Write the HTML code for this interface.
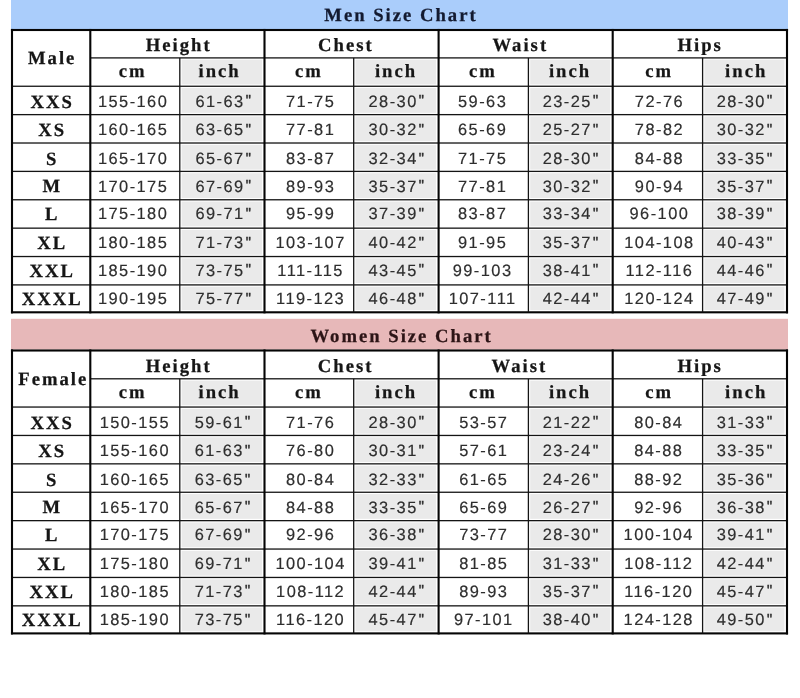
<!DOCTYPE html>
<html lang="en"><head><meta charset="utf-8"><title>Size Chart</title>
<style>
html,body{margin:0;padding:0;background:#fff}
body{width:800px;height:698px;overflow:hidden}
svg{display:block}
.k{fill:#050505}
.n{fill:#141414}
.g{fill:#eaeaea}
text{text-anchor:middle;white-space:pre;text-rendering:geometricPrecision}
.b{font:bold 18.67px "Liberation Serif",serif;letter-spacing:2.0px;fill:#161616;stroke:#161616;stroke-width:0.25px}
.tm{fill:#131a30;stroke:#131a30}
.tw{fill:#2c1416;stroke:#2c1416}
.d{text-rendering:geometricPrecision;font:16.4px "Liberation Sans",sans-serif;letter-spacing:1.45px;fill:#2e2e2e;stroke:#2e2e2e;stroke-width:0.18px}
.q{font-size:14.5px;stroke-width:0.45px}
</style></head>
<body>
<svg width="800" height="698" viewBox="0 0 800 698">
<rect x="11" y="0" width="777" height="29.2" fill="#aacdfb"/>
<rect x="11" y="318.8" width="777" height="30.8" fill="#e7b8b9"/>
<rect class="g" x="181.60" y="59.70" width="80.35" height="24.75"/>
<rect class="g" x="181.60" y="88.05" width="80.35" height="24.78"/>
<rect class="g" x="181.60" y="116.43" width="80.35" height="24.78"/>
<rect class="g" x="181.60" y="144.81" width="80.35" height="24.78"/>
<rect class="g" x="181.60" y="173.19" width="80.35" height="24.78"/>
<rect class="g" x="181.60" y="201.57" width="80.35" height="24.78"/>
<rect class="g" x="181.60" y="229.95" width="80.35" height="24.78"/>
<rect class="g" x="181.60" y="258.33" width="80.35" height="24.78"/>
<rect class="g" x="181.60" y="286.71" width="80.35" height="23.39"/>
<rect class="g" x="355.50" y="59.70" width="80.55" height="24.75"/>
<rect class="g" x="355.50" y="88.05" width="80.55" height="24.78"/>
<rect class="g" x="355.50" y="116.43" width="80.55" height="24.78"/>
<rect class="g" x="355.50" y="144.81" width="80.55" height="24.78"/>
<rect class="g" x="355.50" y="173.19" width="80.55" height="24.78"/>
<rect class="g" x="355.50" y="201.57" width="80.55" height="24.78"/>
<rect class="g" x="355.50" y="229.95" width="80.55" height="24.78"/>
<rect class="g" x="355.50" y="258.33" width="80.55" height="24.78"/>
<rect class="g" x="355.50" y="286.71" width="80.55" height="23.39"/>
<rect class="g" x="530.20" y="59.70" width="79.95" height="24.75"/>
<rect class="g" x="530.20" y="88.05" width="79.95" height="24.78"/>
<rect class="g" x="530.20" y="116.43" width="79.95" height="24.78"/>
<rect class="g" x="530.20" y="144.81" width="79.95" height="24.78"/>
<rect class="g" x="530.20" y="173.19" width="79.95" height="24.78"/>
<rect class="g" x="530.20" y="201.57" width="79.95" height="24.78"/>
<rect class="g" x="530.20" y="229.95" width="79.95" height="24.78"/>
<rect class="g" x="530.20" y="258.33" width="79.95" height="24.78"/>
<rect class="g" x="530.20" y="286.71" width="79.95" height="23.39"/>
<rect class="g" x="704.40" y="59.70" width="80.05" height="24.75"/>
<rect class="g" x="704.40" y="88.05" width="80.05" height="24.78"/>
<rect class="g" x="704.40" y="116.43" width="80.05" height="24.78"/>
<rect class="g" x="704.40" y="144.81" width="80.05" height="24.78"/>
<rect class="g" x="704.40" y="173.19" width="80.05" height="24.78"/>
<rect class="g" x="704.40" y="201.57" width="80.05" height="24.78"/>
<rect class="g" x="704.40" y="229.95" width="80.05" height="24.78"/>
<rect class="g" x="704.40" y="258.33" width="80.05" height="24.78"/>
<rect class="g" x="704.40" y="286.71" width="80.05" height="23.39"/>
<rect class="k" x="10.95" y="28.95" width="777.10" height="2.1"/>
<rect class="k" x="10.95" y="311.25" width="777.10" height="2.1"/>
<rect class="n" x="90.30" y="57.25" width="696.70" height="1.3"/>
<rect class="n" x="12.00" y="85.60" width="775.00" height="1.3"/>
<rect class="n" x="12.00" y="113.98" width="775.00" height="1.3"/>
<rect class="n" x="12.00" y="142.36" width="775.00" height="1.3"/>
<rect class="n" x="12.00" y="170.74" width="775.00" height="1.3"/>
<rect class="n" x="12.00" y="199.12" width="775.00" height="1.3"/>
<rect class="n" x="12.00" y="227.50" width="775.00" height="1.3"/>
<rect class="n" x="12.00" y="255.88" width="775.00" height="1.3"/>
<rect class="n" x="12.00" y="284.26" width="775.00" height="1.3"/>
<rect class="k" x="10.95" y="28.95" width="2.1" height="284.40"/>
<rect class="k" x="89.25" y="28.95" width="2.1" height="284.40"/>
<rect class="n" x="179.15" y="57.90" width="1.3" height="254.40"/>
<rect class="k" x="263.45" y="28.95" width="2.1" height="284.40"/>
<rect class="n" x="353.05" y="57.90" width="1.3" height="254.40"/>
<rect class="k" x="437.55" y="28.95" width="2.1" height="284.40"/>
<rect class="n" x="527.75" y="57.90" width="1.3" height="254.40"/>
<rect class="k" x="611.65" y="28.95" width="2.1" height="284.40"/>
<rect class="n" x="701.95" y="57.90" width="1.3" height="254.40"/>
<rect class="k" x="785.95" y="28.95" width="2.1" height="284.40"/>
<rect class="g" x="181.60" y="380.60" width="80.35" height="24.65"/>
<rect class="g" x="181.60" y="408.85" width="80.35" height="24.80"/>
<rect class="g" x="181.60" y="437.25" width="80.35" height="24.80"/>
<rect class="g" x="181.60" y="465.65" width="80.35" height="24.80"/>
<rect class="g" x="181.60" y="494.05" width="80.35" height="24.80"/>
<rect class="g" x="181.60" y="522.45" width="80.35" height="24.80"/>
<rect class="g" x="181.60" y="550.85" width="80.35" height="24.80"/>
<rect class="g" x="181.60" y="579.25" width="80.35" height="24.80"/>
<rect class="g" x="181.60" y="607.65" width="80.35" height="23.55"/>
<rect class="g" x="355.50" y="380.60" width="80.55" height="24.65"/>
<rect class="g" x="355.50" y="408.85" width="80.55" height="24.80"/>
<rect class="g" x="355.50" y="437.25" width="80.55" height="24.80"/>
<rect class="g" x="355.50" y="465.65" width="80.55" height="24.80"/>
<rect class="g" x="355.50" y="494.05" width="80.55" height="24.80"/>
<rect class="g" x="355.50" y="522.45" width="80.55" height="24.80"/>
<rect class="g" x="355.50" y="550.85" width="80.55" height="24.80"/>
<rect class="g" x="355.50" y="579.25" width="80.55" height="24.80"/>
<rect class="g" x="355.50" y="607.65" width="80.55" height="23.55"/>
<rect class="g" x="530.20" y="380.60" width="79.95" height="24.65"/>
<rect class="g" x="530.20" y="408.85" width="79.95" height="24.80"/>
<rect class="g" x="530.20" y="437.25" width="79.95" height="24.80"/>
<rect class="g" x="530.20" y="465.65" width="79.95" height="24.80"/>
<rect class="g" x="530.20" y="494.05" width="79.95" height="24.80"/>
<rect class="g" x="530.20" y="522.45" width="79.95" height="24.80"/>
<rect class="g" x="530.20" y="550.85" width="79.95" height="24.80"/>
<rect class="g" x="530.20" y="579.25" width="79.95" height="24.80"/>
<rect class="g" x="530.20" y="607.65" width="79.95" height="23.55"/>
<rect class="g" x="704.40" y="380.60" width="80.05" height="24.65"/>
<rect class="g" x="704.40" y="408.85" width="80.05" height="24.80"/>
<rect class="g" x="704.40" y="437.25" width="80.05" height="24.80"/>
<rect class="g" x="704.40" y="465.65" width="80.05" height="24.80"/>
<rect class="g" x="704.40" y="494.05" width="80.05" height="24.80"/>
<rect class="g" x="704.40" y="522.45" width="80.05" height="24.80"/>
<rect class="g" x="704.40" y="550.85" width="80.05" height="24.80"/>
<rect class="g" x="704.40" y="579.25" width="80.05" height="24.80"/>
<rect class="g" x="704.40" y="607.65" width="80.05" height="23.55"/>
<rect class="k" x="10.95" y="349.45" width="777.10" height="2.1"/>
<rect class="k" x="10.95" y="632.35" width="777.10" height="2.1"/>
<rect class="n" x="90.30" y="378.15" width="696.70" height="1.3"/>
<rect class="n" x="12.00" y="406.40" width="775.00" height="1.3"/>
<rect class="n" x="12.00" y="434.80" width="775.00" height="1.3"/>
<rect class="n" x="12.00" y="463.20" width="775.00" height="1.3"/>
<rect class="n" x="12.00" y="491.60" width="775.00" height="1.3"/>
<rect class="n" x="12.00" y="520.00" width="775.00" height="1.3"/>
<rect class="n" x="12.00" y="548.40" width="775.00" height="1.3"/>
<rect class="n" x="12.00" y="576.80" width="775.00" height="1.3"/>
<rect class="n" x="12.00" y="605.20" width="775.00" height="1.3"/>
<rect class="k" x="10.95" y="349.45" width="2.1" height="285.00"/>
<rect class="k" x="89.25" y="349.45" width="2.1" height="285.00"/>
<rect class="n" x="179.15" y="378.80" width="1.3" height="254.60"/>
<rect class="k" x="263.45" y="349.45" width="2.1" height="285.00"/>
<rect class="n" x="353.05" y="378.80" width="1.3" height="254.60"/>
<rect class="k" x="437.55" y="349.45" width="2.1" height="285.00"/>
<rect class="n" x="527.75" y="378.80" width="1.3" height="254.60"/>
<rect class="k" x="611.65" y="349.45" width="2.1" height="285.00"/>
<rect class="n" x="701.95" y="378.80" width="1.3" height="254.60"/>
<rect class="k" x="785.95" y="349.45" width="2.1" height="285.00"/>
<text class="b tm" x="401.00" y="20.60">Men Size Chart</text>
<text class="b tw" x="401.60" y="342.25">Women Size Chart</text>
<text class="b" x="52.20" y="64.40">Male</text>
<text class="b" x="178.75" y="51.10">Height</text>
<text class="b" x="345.90" y="51.10">Chest</text>
<text class="b" x="520.30" y="51.10">Waist</text>
<text class="b" x="700.15" y="51.10">Hips</text>
<text class="b" x="132.75" y="77.40">cm</text>
<text class="b" x="308.95" y="77.40">cm</text>
<text class="b" x="482.95" y="77.40">cm</text>
<text class="b" x="659.15" y="77.40">cm</text>
<text class="b" x="219.60" y="77.40">inch</text>
<text class="b" x="396.05" y="77.40">inch</text>
<text class="b" x="570.05" y="77.40">inch</text>
<text class="b" x="746.20" y="77.40">inch</text>
<text class="b" x="52.20" y="107.70">XXS</text>
<text class="d" x="133.12" y="106.80">155-160</text>
<text class="d" x="223.88" y="106.80">61-63<tspan class="q" dx="1.1" dy="-1.6">&quot;</tspan></text>
<text class="d" x="310.62" y="106.80">71-75</text>
<text class="d" x="396.98" y="106.80">28-30<tspan class="q" dx="1.1" dy="-1.6">&quot;</tspan></text>
<text class="d" x="482.62" y="106.80">59-63</text>
<text class="d" x="571.17" y="106.80">23-25<tspan class="q" dx="1.1" dy="-1.6">&quot;</tspan></text>
<text class="d" x="659.43" y="106.80">72-76</text>
<text class="d" x="745.17" y="106.80">28-30<tspan class="q" dx="1.1" dy="-1.6">&quot;</tspan></text>
<text class="b" x="52.20" y="135.90">XS</text>
<text class="d" x="133.12" y="135.10">160-165</text>
<text class="d" x="223.88" y="135.10">63-65<tspan class="q" dx="1.1" dy="-1.6">&quot;</tspan></text>
<text class="d" x="310.62" y="135.10">77-81</text>
<text class="d" x="396.98" y="135.10">30-32<tspan class="q" dx="1.1" dy="-1.6">&quot;</tspan></text>
<text class="d" x="482.62" y="135.10">65-69</text>
<text class="d" x="571.17" y="135.10">25-27<tspan class="q" dx="1.1" dy="-1.6">&quot;</tspan></text>
<text class="d" x="659.43" y="135.10">78-82</text>
<text class="d" x="745.17" y="135.10">30-32<tspan class="q" dx="1.1" dy="-1.6">&quot;</tspan></text>
<text class="b" x="52.20" y="164.80">S</text>
<text class="d" x="133.12" y="164.20">165-170</text>
<text class="d" x="223.88" y="164.20">65-67<tspan class="q" dx="1.1" dy="-1.6">&quot;</tspan></text>
<text class="d" x="310.62" y="164.20">83-87</text>
<text class="d" x="396.98" y="164.20">32-34<tspan class="q" dx="1.1" dy="-1.6">&quot;</tspan></text>
<text class="d" x="482.62" y="164.20">71-75</text>
<text class="d" x="571.17" y="164.20">28-30<tspan class="q" dx="1.1" dy="-1.6">&quot;</tspan></text>
<text class="d" x="659.43" y="164.20">84-88</text>
<text class="d" x="745.17" y="164.20">33-35<tspan class="q" dx="1.1" dy="-1.6">&quot;</tspan></text>
<text class="b" x="52.20" y="192.00">M</text>
<text class="d" x="133.12" y="191.70">170-175</text>
<text class="d" x="223.88" y="191.70">67-69<tspan class="q" dx="1.1" dy="-1.6">&quot;</tspan></text>
<text class="d" x="310.62" y="191.70">89-93</text>
<text class="d" x="396.98" y="191.70">35-37<tspan class="q" dx="1.1" dy="-1.6">&quot;</tspan></text>
<text class="d" x="482.62" y="191.70">77-81</text>
<text class="d" x="571.17" y="191.70">30-32<tspan class="q" dx="1.1" dy="-1.6">&quot;</tspan></text>
<text class="d" x="659.43" y="191.70">90-94</text>
<text class="d" x="745.17" y="191.70">35-37<tspan class="q" dx="1.1" dy="-1.6">&quot;</tspan></text>
<text class="b" x="52.20" y="220.30">L</text>
<text class="d" x="133.12" y="219.30">175-180</text>
<text class="d" x="223.88" y="219.30">69-71<tspan class="q" dx="1.1" dy="-1.6">&quot;</tspan></text>
<text class="d" x="310.62" y="219.30">95-99</text>
<text class="d" x="396.98" y="219.30">37-39<tspan class="q" dx="1.1" dy="-1.6">&quot;</tspan></text>
<text class="d" x="482.62" y="219.30">83-87</text>
<text class="d" x="571.17" y="219.30">33-34<tspan class="q" dx="1.1" dy="-1.6">&quot;</tspan></text>
<text class="d" x="659.43" y="219.30">96-100</text>
<text class="d" x="745.17" y="219.30">38-39<tspan class="q" dx="1.1" dy="-1.6">&quot;</tspan></text>
<text class="b" x="52.20" y="248.80">XL</text>
<text class="d" x="133.12" y="248.40">180-185</text>
<text class="d" x="223.88" y="248.40">71-73<tspan class="q" dx="1.1" dy="-1.6">&quot;</tspan></text>
<text class="d" x="310.62" y="248.40">103-107</text>
<text class="d" x="396.98" y="248.40">40-42<tspan class="q" dx="1.1" dy="-1.6">&quot;</tspan></text>
<text class="d" x="482.62" y="248.40">91-95</text>
<text class="d" x="571.17" y="248.40">35-37<tspan class="q" dx="1.1" dy="-1.6">&quot;</tspan></text>
<text class="d" x="659.43" y="248.40">104-108</text>
<text class="d" x="745.17" y="248.40">40-43<tspan class="q" dx="1.1" dy="-1.6">&quot;</tspan></text>
<text class="b" x="52.20" y="276.80">XXL</text>
<text class="d" x="133.12" y="275.80">185-190</text>
<text class="d" x="223.88" y="275.80">73-75<tspan class="q" dx="1.1" dy="-1.6">&quot;</tspan></text>
<text class="d" x="310.62" y="275.80">111-115</text>
<text class="d" x="396.98" y="275.80">43-45<tspan class="q" dx="1.1" dy="-1.6">&quot;</tspan></text>
<text class="d" x="482.62" y="275.80">99-103</text>
<text class="d" x="571.17" y="275.80">38-41<tspan class="q" dx="1.1" dy="-1.6">&quot;</tspan></text>
<text class="d" x="659.43" y="275.80">112-116</text>
<text class="d" x="745.17" y="275.80">44-46<tspan class="q" dx="1.1" dy="-1.6">&quot;</tspan></text>
<text class="b" x="52.20" y="305.20">XXXL</text>
<text class="d" x="133.12" y="304.30">190-195</text>
<text class="d" x="223.88" y="304.30">75-77<tspan class="q" dx="1.1" dy="-1.6">&quot;</tspan></text>
<text class="d" x="310.62" y="304.30">119-123</text>
<text class="d" x="396.98" y="304.30">46-48<tspan class="q" dx="1.1" dy="-1.6">&quot;</tspan></text>
<text class="d" x="482.62" y="304.30">107-111</text>
<text class="d" x="571.17" y="304.30">42-44<tspan class="q" dx="1.1" dy="-1.6">&quot;</tspan></text>
<text class="d" x="659.43" y="304.30">120-124</text>
<text class="d" x="745.17" y="304.30">47-49<tspan class="q" dx="1.1" dy="-1.6">&quot;</tspan></text>
<text class="b" x="53.25" y="384.70">Female</text>
<text class="b" x="178.75" y="371.80">Height</text>
<text class="b" x="345.60" y="371.80">Chest</text>
<text class="b" x="519.40" y="371.80">Waist</text>
<text class="b" x="700.15" y="371.80">Hips</text>
<text class="b" x="132.75" y="398.10">cm</text>
<text class="b" x="308.95" y="398.10">cm</text>
<text class="b" x="482.95" y="398.10">cm</text>
<text class="b" x="659.15" y="398.10">cm</text>
<text class="b" x="219.60" y="398.10">inch</text>
<text class="b" x="396.05" y="398.10">inch</text>
<text class="b" x="570.05" y="398.10">inch</text>
<text class="b" x="746.20" y="398.10">inch</text>
<text class="b" x="52.20" y="428.70">XXS</text>
<text class="d" x="134.82" y="427.80">150-155</text>
<text class="d" x="223.18" y="427.80">59-61<tspan class="q" dx="1.1" dy="-1.6">&quot;</tspan></text>
<text class="d" x="310.62" y="427.80">71-76</text>
<text class="d" x="396.98" y="427.80">28-30<tspan class="q" dx="1.1" dy="-1.6">&quot;</tspan></text>
<text class="d" x="483.83" y="427.80">53-57</text>
<text class="d" x="571.17" y="427.80">21-22<tspan class="q" dx="1.1" dy="-1.6">&quot;</tspan></text>
<text class="d" x="658.73" y="427.80">80-84</text>
<text class="d" x="745.17" y="427.80">31-33<tspan class="q" dx="1.1" dy="-1.6">&quot;</tspan></text>
<text class="b" x="52.20" y="456.90">XS</text>
<text class="d" x="134.82" y="456.10">155-160</text>
<text class="d" x="223.18" y="456.10">61-63<tspan class="q" dx="1.1" dy="-1.6">&quot;</tspan></text>
<text class="d" x="310.62" y="456.10">76-80</text>
<text class="d" x="396.98" y="456.10">30-31<tspan class="q" dx="1.1" dy="-1.6">&quot;</tspan></text>
<text class="d" x="483.83" y="456.10">57-61</text>
<text class="d" x="571.17" y="456.10">23-24<tspan class="q" dx="1.1" dy="-1.6">&quot;</tspan></text>
<text class="d" x="658.73" y="456.10">84-88</text>
<text class="d" x="745.17" y="456.10">33-35<tspan class="q" dx="1.1" dy="-1.6">&quot;</tspan></text>
<text class="b" x="52.20" y="485.80">S</text>
<text class="d" x="134.82" y="485.20">160-165</text>
<text class="d" x="223.18" y="485.20">63-65<tspan class="q" dx="1.1" dy="-1.6">&quot;</tspan></text>
<text class="d" x="310.62" y="485.20">80-84</text>
<text class="d" x="396.98" y="485.20">32-33<tspan class="q" dx="1.1" dy="-1.6">&quot;</tspan></text>
<text class="d" x="483.83" y="485.20">61-65</text>
<text class="d" x="571.17" y="485.20">24-26<tspan class="q" dx="1.1" dy="-1.6">&quot;</tspan></text>
<text class="d" x="658.73" y="485.20">88-92</text>
<text class="d" x="745.17" y="485.20">35-36<tspan class="q" dx="1.1" dy="-1.6">&quot;</tspan></text>
<text class="b" x="52.20" y="513.00">M</text>
<text class="d" x="134.82" y="512.70">165-170</text>
<text class="d" x="223.18" y="512.70">65-67<tspan class="q" dx="1.1" dy="-1.6">&quot;</tspan></text>
<text class="d" x="310.62" y="512.70">84-88</text>
<text class="d" x="396.98" y="512.70">33-35<tspan class="q" dx="1.1" dy="-1.6">&quot;</tspan></text>
<text class="d" x="483.83" y="512.70">65-69</text>
<text class="d" x="571.17" y="512.70">26-27<tspan class="q" dx="1.1" dy="-1.6">&quot;</tspan></text>
<text class="d" x="658.73" y="512.70">92-96</text>
<text class="d" x="745.17" y="512.70">36-38<tspan class="q" dx="1.1" dy="-1.6">&quot;</tspan></text>
<text class="b" x="52.20" y="541.30">L</text>
<text class="d" x="134.82" y="540.30">170-175</text>
<text class="d" x="223.18" y="540.30">67-69<tspan class="q" dx="1.1" dy="-1.6">&quot;</tspan></text>
<text class="d" x="310.62" y="540.30">92-96</text>
<text class="d" x="396.98" y="540.30">36-38<tspan class="q" dx="1.1" dy="-1.6">&quot;</tspan></text>
<text class="d" x="483.83" y="540.30">73-77</text>
<text class="d" x="571.17" y="540.30">28-30<tspan class="q" dx="1.1" dy="-1.6">&quot;</tspan></text>
<text class="d" x="658.73" y="540.30">100-104</text>
<text class="d" x="745.17" y="540.30">39-41<tspan class="q" dx="1.1" dy="-1.6">&quot;</tspan></text>
<text class="b" x="52.20" y="569.80">XL</text>
<text class="d" x="134.82" y="569.40">175-180</text>
<text class="d" x="223.18" y="569.40">69-71<tspan class="q" dx="1.1" dy="-1.6">&quot;</tspan></text>
<text class="d" x="310.62" y="569.40">100-104</text>
<text class="d" x="396.98" y="569.40">39-41<tspan class="q" dx="1.1" dy="-1.6">&quot;</tspan></text>
<text class="d" x="483.83" y="569.40">81-85</text>
<text class="d" x="571.17" y="569.40">31-33<tspan class="q" dx="1.1" dy="-1.6">&quot;</tspan></text>
<text class="d" x="658.73" y="569.40">108-112</text>
<text class="d" x="745.17" y="569.40">42-44<tspan class="q" dx="1.1" dy="-1.6">&quot;</tspan></text>
<text class="b" x="52.20" y="597.80">XXL</text>
<text class="d" x="134.82" y="596.80">180-185</text>
<text class="d" x="223.18" y="596.80">71-73<tspan class="q" dx="1.1" dy="-1.6">&quot;</tspan></text>
<text class="d" x="310.62" y="596.80">108-112</text>
<text class="d" x="396.98" y="596.80">42-44<tspan class="q" dx="1.1" dy="-1.6">&quot;</tspan></text>
<text class="d" x="483.83" y="596.80">89-93</text>
<text class="d" x="571.17" y="596.80">35-37<tspan class="q" dx="1.1" dy="-1.6">&quot;</tspan></text>
<text class="d" x="658.73" y="596.80">116-120</text>
<text class="d" x="745.17" y="596.80">45-47<tspan class="q" dx="1.1" dy="-1.6">&quot;</tspan></text>
<text class="b" x="52.20" y="626.20">XXXL</text>
<text class="d" x="134.82" y="625.30">185-190</text>
<text class="d" x="223.18" y="625.30">73-75<tspan class="q" dx="1.1" dy="-1.6">&quot;</tspan></text>
<text class="d" x="310.62" y="625.30">116-120</text>
<text class="d" x="396.98" y="625.30">45-47<tspan class="q" dx="1.1" dy="-1.6">&quot;</tspan></text>
<text class="d" x="483.83" y="625.30">97-101</text>
<text class="d" x="571.17" y="625.30">38-40<tspan class="q" dx="1.1" dy="-1.6">&quot;</tspan></text>
<text class="d" x="658.73" y="625.30">124-128</text>
<text class="d" x="745.17" y="625.30">49-50<tspan class="q" dx="1.1" dy="-1.6">&quot;</tspan></text>
</svg>
</body></html>
